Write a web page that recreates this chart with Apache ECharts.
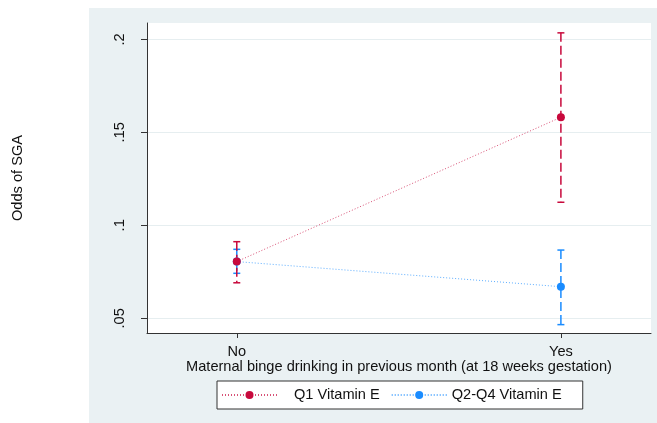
<!DOCTYPE html>
<html>
<head>
<meta charset="utf-8">
<script src="https://cdn.jsdelivr.net/npm/echarts@6/dist/echarts.min.js"></script>
<style>
  html, body { margin: 0; padding: 0; background: #ffffff; }
  #chart { width: 657px; height: 423px; }
</style>
</head>
<body>
<div id="chart"></div>
<script>
// Predicted odds of SGA by maternal binge drinking, with 95% CIs
const categories = ['No', 'Yes'];
const seriesNames = ['Q1 Vitamin E', 'Q2-Q4 Vitamin E'];

const q1Odds  = [0.0805, 0.1581];
const q1Lower = [0.0691, 0.1124];
const q1Upper = [0.0912, 0.2035];

const q2Odds  = [0.0805, 0.0670];
const q2Lower = [0.0742, 0.0466];
const q2Upper = [0.0871, 0.0867];

const yTicks = [0.05, 0.1, 0.15, 0.2];
const yTickLabels = ['.05', '.1', '.15', '.2'];

const RED = '#c8093c';
const BLUE = '#1a8cff';
const FONT = "'Liberation Sans', Arial, sans-serif";
const FS = 14.6;

const chart = echarts.init(document.getElementById('chart'), null, { renderer: 'canvas' });

function ciData(lower, upper) {
  return categories.map((c, i) => [i, lower[i], upper[i]]);
}

function pointData(vals) {
  return categories.map((c, i) => [i, vals[i]]);
}

// Dashed range bar with a short cap at each end
function makeCiRender(color) {
  return function (params, api) {
    const x = api.value(0);
    const lo = api.coord([x, api.value(1)]);
    const hi = api.coord([x, api.value(2)]);
    const cap = 3.5;
    const style = { stroke: color, lineWidth: 1.5 };
    return {
      type: 'group',
      children: [
        { type: 'line', shape: { x1: hi[0], y1: hi[1], x2: lo[0], y2: lo[1] },
          style: Object.assign({ lineDash: [9, 4] }, style) },
        { type: 'line', shape: { x1: hi[0] - cap, y1: hi[1], x2: hi[0] + cap, y2: hi[1] }, style: style },
        { type: 'line', shape: { x1: lo[0] - cap, y1: lo[1], x2: lo[0] + cap, y2: lo[1] }, style: style }
      ]
    };
  };
}

const option = {
  backgroundColor: '#ffffff',
  animation: false,
  textStyle: { fontFamily: FONT },
  graphic: [{
    type: 'rect',
    z: -100,
    silent: true,
    shape: { x: 89, y: 8, width: 570, height: 420 },
    style: { fill: '#eaf1f3' }
  }],
  grid: {
    left: 147, top: 23, right: 6, bottom: 90,
    show: true, backgroundColor: '#ffffff', borderWidth: 0
  },
  legend: {
    data: seriesNames,
    left: 217, top: 381,
    orient: 'horizontal',
    padding: [6.5, 21, 6.5, 4],
    itemGap: 11,
    itemWidth: 55, itemHeight: 10,
    backgroundColor: '#ffffff',
    borderColor: '#333333', borderWidth: 1, borderRadius: 0,
    formatter: name => name === seriesNames[0] ? '{first|' + name + '}' : '{second|' + name + '}',
    textStyle: {
      fontFamily: FONT, fontSize: FS, color: '#111111',
      rich: {
        first: { fontFamily: FONT, fontSize: FS, color: '#111111', padding: [0, 0, 0, 12] },
        second: { fontFamily: FONT, fontSize: FS, color: '#111111', padding: [0, 0, 0, 0] }
      }
    }
  },
  xAxis: {
    type: 'value',
    min: -0.277, max: 1.278,
    name: 'Maternal binge drinking in previous month (at 18 weeks gestation)',
    nameLocation: 'middle',
    nameGap: 26,
    nameMoveOverlap: false,
    nameTextStyle: { fontFamily: FONT, fontSize: FS, color: '#111111' },
    axisLine: { show: true, onZero: false, lineStyle: { color: '#333333', width: 1 } },
    axisTick: { show: true, length: 5, customValues: [0, 1], lineStyle: { color: '#333333' } },
    axisLabel: {
      customValues: [0, 1], margin: 11,
      fontFamily: FONT, fontSize: FS, color: '#111111',
      formatter: v => categories[Math.round(v)]
    },
    splitLine: { show: false }
  },
  yAxis: {
    type: 'value',
    min: 0.0421, max: 0.2088,
    name: 'Odds of SGA',
    nameLocation: 'middle',
    nameGap: 122,
    nameRotate: 90,
    nameMoveOverlap: false,
    nameTextStyle: { fontFamily: FONT, fontSize: FS, color: '#111111' },
    axisLine: { show: true, onZero: false, lineStyle: { color: '#333333', width: 1 } },
    axisTick: { show: true, length: 6, customValues: yTicks, lineStyle: { color: '#333333' } },
    axisLabel: {
      customValues: yTicks, rotate: 90, margin: 20,
      fontFamily: FONT, fontSize: FS, color: '#111111',
      formatter: v => yTickLabels[yTicks.findIndex(t => Math.abs(t - v) < 1e-9)]
    },
    splitLine: { show: true, lineStyle: { color: '#e6eef0', width: 1 } }
  },
  series: [
    {
      name: 'Q2-Q4 Vitamin E CI', type: 'custom', z: 2,
      renderItem: makeCiRender(BLUE),
      encode: { x: 0, y: [1, 2] },
      data: ciData(q2Lower, q2Upper)
    },
    {
      name: 'Q1 Vitamin E CI', type: 'custom', z: 3,
      renderItem: makeCiRender(RED),
      encode: { x: 0, y: [1, 2] },
      data: ciData(q1Lower, q1Upper)
    },
    {
      name: 'Q2-Q4 Vitamin E', type: 'line', z: 4,
      data: pointData(q2Odds),
      symbol: 'circle', symbolSize: 8, showAllSymbol: true,
      itemStyle: { color: BLUE },
      lineStyle: { color: BLUE, width: 1, type: [1, 2], opacity: 0.7 }
    },
    {
      name: 'Q1 Vitamin E', type: 'line', z: 5,
      data: pointData(q1Odds),
      symbol: 'circle', symbolSize: 8, showAllSymbol: true,
      itemStyle: { color: RED },
      lineStyle: { color: RED, width: 1, type: [1, 2], opacity: 0.7 }
    }
  ]
};

chart.setOption(option);
</script>
</body>
</html>
